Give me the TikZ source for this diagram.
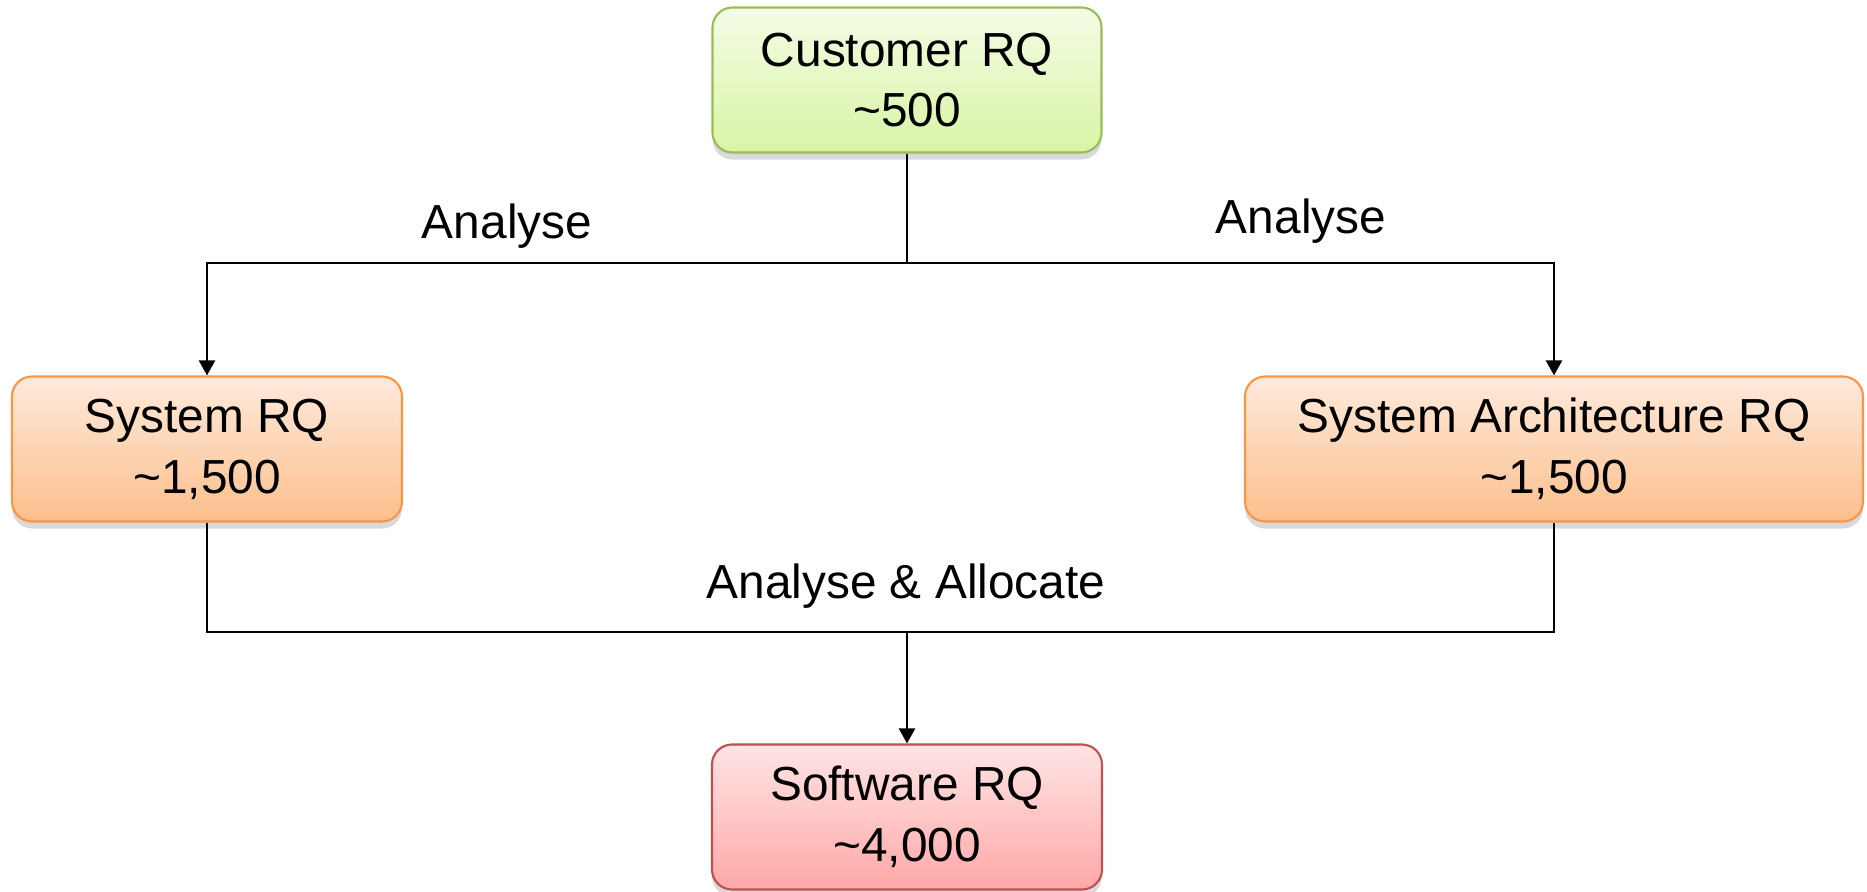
\documentclass[tikz,border=0pt]{standalone}
\usepackage{fontspec}
\setmainfont{Liberation Sans}
\usetikzlibrary{arrows.meta, shadows}

\definecolor{greenTop}{HTML}{F4FCE6}
\definecolor{greenBot}{HTML}{D8F5A4}
\definecolor{greenLine}{HTML}{9BBB59}
\definecolor{orangeTop}{HTML}{FEEADC}
\definecolor{orangeBot}{HTML}{FCBF8C}
\definecolor{orangeLine}{HTML}{F79646}
\definecolor{redTop}{HTML}{FFE4E4}
\definecolor{redBot}{HTML}{FFA8A8}
\definecolor{redLine}{HTML}{C0504D}

\begin{document}
\begin{tikzpicture}[
    >={Triangle[width=0.16cm, length=0.15cm]}, % Set default arrow tip style
    font=\fontsize{13.6}{17.3}\selectfont,
    rq/.style={rounded corners=0.2cm, align=center, minimum height=1.45cm,
        line width=0.6pt, drop shadow={opacity=0.3, shadow xshift=0pt, shadow yshift=-0.07cm}}, % Style for requirement boxes
    link/.style={line width=0.65pt} % Style for connectors
]
\useasboundingbox (0,0) rectangle (18.67,-8.92);

% Requirement boxes
\node[rq, draw=greenLine, top color=greenTop, bottom color=greenBot, minimum width=3.89cm]
    (cust) at (9.07,-0.80) {Customer RQ\\\textasciitilde500};
\node[rq, draw=orangeLine, top color=orangeTop, bottom color=orangeBot, minimum width=3.90cm]
    (sys) at (2.07,-4.49) {System RQ\\\textasciitilde1,500};
\node[rq, draw=orangeLine, top color=orangeTop, bottom color=orangeBot, minimum width=6.18cm]
    (arch) at (15.54,-4.49) {System Architecture RQ\\\textasciitilde1,500};
\node[rq, draw=redLine, top color=redTop, bottom color=redBot, minimum width=3.90cm]
    (soft) at (9.07,-8.17) {Software RQ\\\textasciitilde4,000};

% Junction points
\coordinate (j1) at (9.07,-2.63); % Split below Customer RQ
\coordinate (j2) at (9.07,-6.32); % Merge above Software RQ

% Analyse: Customer -> System / Architecture
\draw[link] (cust) -- (j1);
\draw[link, ->] (j1) -| (sys.north);
\draw[link, ->] (j1) -| (arch.north);
\node (an1) at (5.07,-2.26) {Analyse};
\node (an2) at (13.01,-2.21) {Analyse};

% Analyse & Allocate: System / Architecture -> Software
\draw[link] (sys.south) |- (j2);
\draw[link] (arch.south) |- (j2);
\draw[link, ->] (j2) -- (soft.north);
\node (alloc) at (9.06,-5.86) {Analyse \& Allocate};

\end{tikzpicture}
\end{document}
